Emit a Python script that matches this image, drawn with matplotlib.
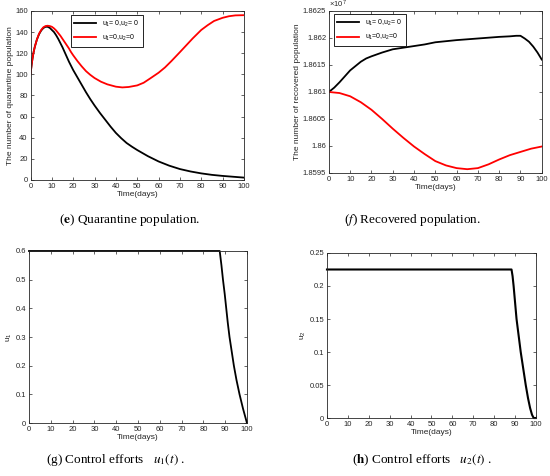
import matplotlib.pyplot as plt
from matplotlib.ticker import MultipleLocator, FuncFormatter

plt.rcParams['font.family'] = 'Liberation Sans'
plt.rcParams['mathtext.fontset'] = 'stix'

# (e) quarantine population
t_q_black = [0, 0.5, 1, 1.5, 2, 3, 4, 5, 6, 7, 8, 9, 10, 11, 12, 13, 14, 15, 16, 17, 18, 19,
             20, 22, 24, 26, 28, 30, 32.5, 35, 37.5, 40, 42.5, 45, 47.5,
             50, 55, 60, 65, 70, 75, 80, 85, 90, 95, 100]
q_black = [100, 109, 116, 121.5, 126, 133, 138, 141.5, 143.8, 145, 145, 144, 142, 140, 137,
           133.5, 129.5, 125.5, 121, 116.5, 112, 108, 104, 97, 90, 83, 76.5, 70.5, 63.5, 57,
           50.5, 44.5, 39.5, 35, 31.5, 28.3, 22.5, 17.5, 13.5, 10.3, 8, 6.2, 4.8, 3.8, 3, 2.2]
t_q_red = [0, 0.5, 1, 1.5, 2, 3, 4, 5, 6, 7, 8, 9, 10, 11, 12, 13, 14, 15, 16, 17, 18, 19, 20,
           22, 24, 26, 28, 30, 33, 36, 40, 43, 46, 50, 53, 56, 60, 63, 66, 70, 73, 76, 80, 83,
           86, 90, 93, 96, 100]
q_red = [100, 109, 116, 121.5, 126, 133, 138.5, 142, 144.5, 145.7, 146, 145.7, 145, 143.5,
         141.5, 139, 136.5, 133.5, 130.5, 127.5, 124.5, 121, 118, 112.5, 107.5, 103, 99.5,
         96.5, 93, 90.5, 88.3, 87.6, 88, 89.5, 92, 96, 101.5, 106.5, 112.5, 121, 127.5, 134,
         142, 146.5, 150.5, 153.5, 155, 155.8, 156]

# (f) recovered population
t_r_black = [0, 2.5, 5, 7.5, 10, 12.5, 15, 17.5, 20, 25, 30, 35, 40, 45, 50, 60, 70, 80, 85,
             88, 90, 92, 94, 96, 98, 100]
r_black = [1.86100e7, 1.86108e7, 1.86118e7, 1.86129e7, 1.86140e7, 1.86148e7, 1.86156e7,
           1.86162e7, 1.86166e7, 1.86173e7, 1.86179e7, 1.86182e7, 1.86185e7, 1.86188e7,
           1.86192e7, 1.86196e7, 1.86199e7, 1.86202e7, 1.86203e7, 1.86204e7, 1.86204e7,
           1.86199e7, 1.86193e7, 1.86184e7, 1.86173e7, 1.86160e7]
t_r_red = [0, 5, 10, 15, 20, 25, 30, 35, 40, 45, 50, 55, 60, 65, 70, 75, 80, 85, 90, 95, 100]
r_red = [1.86100e7, 1.86098e7, 1.86092e7, 1.86081e7, 1.86067e7, 1.86050e7, 1.86032e7,
         1.86015e7, 1.85999e7, 1.85985e7, 1.85972e7, 1.85964e7, 1.85959e7, 1.85957e7,
         1.85959e7, 1.85966e7, 1.85975e7, 1.85983e7, 1.85989e7, 1.85995e7, 1.85999e7]

# (g) and (h) controls
t_u1 = [0, 87.5, 88.3, 89, 89.8, 90.5, 91.2, 92, 93, 94, 95.2, 96.6, 98.2, 100]
u1 = [0.6, 0.6, 0.55, 0.5, 0.45, 0.4, 0.35, 0.3, 0.25, 0.2, 0.15, 0.1, 0.05, 0]
t_u2 = [0, 88.3, 88.8, 89.3, 90, 90.7, 91.7, 92.7, 93.9, 95.1, 96.2, 97.2, 98.1, 98.9, 100]
u2 = [0.225, 0.225, 0.215, 0.2, 0.175, 0.15, 0.125, 0.1, 0.075, 0.05, 0.03, 0.015, 0.005,
      0, 0]

legend_labels = [r'$\mathregular{u_1}$= 0,$\mathregular{u_2}$= 0',
                 r'$\mathregular{u_1}$=0,$\mathregular{u_2}$=0']
axis_color = '#262626'

fig = plt.figure(figsize=(5.5, 4.76), dpi=100)
ax_e = fig.add_axes([0.0555, 0.622, 0.388, 0.355])
ax_f = fig.add_axes([0.598, 0.6366, 0.387, 0.3404])
ax_g = fig.add_axes([0.0527, 0.1113, 0.3963, 0.3614])
ax_h = fig.add_axes([0.5945, 0.1218, 0.38, 0.3467])


def style_axes(ax):
    ax.set_xlim(0, 100)
    ax.xaxis.set_major_locator(MultipleLocator(10))
    ax.yaxis.set_major_formatter(FuncFormatter(lambda v, p: f'{v:g}'))
    ax.tick_params(direction='in', top=True, right=True, length=2.5, width=0.5,
                   labelsize=5.5, colors=axis_color, pad=2)
    for s in ax.spines.values():
        s.set_linewidth(0.6)
        s.set_color(axis_color)
    ax.set_xlabel('Time(days)', fontsize=6, color=axis_color, labelpad=1)


def add_legend(ax, anchor):
    leg = ax.legend(loc='upper left', bbox_to_anchor=anchor, borderaxespad=0, fontsize=5,
                    fancybox=False, edgecolor='black', framealpha=1, handlelength=3.2,
                    borderpad=0.5, labelspacing=0.6)
    leg.get_frame().set_linewidth(0.6)


# quarantine
ax_e.plot(t_q_black, q_black, color='black', lw=1.3, label=legend_labels[0])
ax_e.plot(t_q_red, q_red, color='red', lw=1.3, label=legend_labels[1])
style_axes(ax_e)
ax_e.set_ylim(0, 160)
ax_e.yaxis.set_major_locator(MultipleLocator(20))
ax_e.set_ylabel('The number of quarantine population', fontsize=6, color=axis_color, labelpad=1)
add_legend(ax_e, (0.188, 0.976))

# recovered
ax_f.plot(t_r_black, r_black, color='black', lw=1.3, label=legend_labels[0])
ax_f.plot(t_r_red, r_red, color='red', lw=1.3, label=legend_labels[1])
style_axes(ax_f)
ax_f.set_ylim(1.8595e7, 1.8625e7)
ax_f.yaxis.set_major_locator(MultipleLocator(5000))
ax_f.yaxis.set_major_formatter(FuncFormatter(lambda v, p: f'{v / 1e7:g}'))
ax_f.set_ylabel('The number of recovered population', fontsize=6, color=axis_color, labelpad=1)
ax_f.text(0, 1.005, r'$\mathregular{\times 10^7}$', transform=ax_f.transAxes, fontsize=5.5,
          color=axis_color, va='bottom', ha='left')
add_legend(ax_f, (0.023, 0.98))

# u1
ax_g.plot(t_u1, u1, color='black', lw=1.3, clip_on=False)
style_axes(ax_g)
ax_g.set_ylim(0, 0.6)
ax_g.yaxis.set_major_locator(MultipleLocator(0.1))
ax_g.set_ylabel(r'$\mathregular{u_1}$', fontsize=6, color=axis_color, labelpad=1)

# u2
ax_h.plot(t_u2, u2, color='black', lw=1.5, clip_on=False)
style_axes(ax_h)
ax_h.set_ylim(0, 0.25)
ax_h.yaxis.set_major_locator(MultipleLocator(0.05))
ax_h.set_ylabel(r'$\mathregular{u_2}$', fontsize=6, color=axis_color, labelpad=1)

# captions
cap = dict(fontsize=9.5, family='Liberation Serif', ha='center', va='center')
fig.text(0.236, 1 - 220 / 476, r'($\mathbf{e}$) Quarantine population.', **cap)
fig.text(0.75, 1 - 220 / 476, r'($\mathbf{\mathit{f}}$) Recovered population.', **cap)
fig.text(0.21, 1 - 460 / 476, r'(g) Control efforts   $u_1(t)$ .', **cap)
fig.text(0.768, 1 - 460 / 476, r'($\mathbf{h}$) Control efforts   $u_2(t)$ .', **cap)

fig.savefig('out.png', dpi=100)
